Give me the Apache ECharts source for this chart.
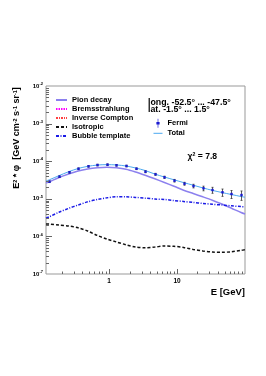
<!DOCTYPE html>
<html><head><meta charset="utf-8">
<script src="https://cdn.jsdelivr.net/npm/echarts@6/dist/echarts.min.js"></script>
<style>html,body{margin:0;padding:0;background:#fff}#c{width:266px;height:376px}</style>
</head><body><div id="c"></div>
<script>
const fermiE = [0.132, 0.183, 0.254, 0.351, 0.485, 0.671, 0.929, 1.285, 1.778, 2.46, 3.40, 4.71, 6.52, 9.02, 12.5, 17.3, 23.9, 33.0, 45.7, 63.2, 87.5];
const fermiFlux = [2.85e-5, 3.87e-5, 5.07e-5, 6.3e-5, 7.3e-5, 7.9e-5, 8.07e-5, 7.78e-5, 7.45e-5, 6.3e-5, 5.25e-5, 4.48e-5, 3.73e-5, 3.03e-5, 2.52e-5, 2.19e-5, 1.90e-5, 1.71e-5, 1.49e-5, 1.34e-5, 1.26e-5];
const fermiErr = [0.05, 0.05, 0.05, 0.05, 0.05, 0.05, 0.05, 0.05, 0.05, 0.05, 0.06, 0.06, 0.07, 0.08, 0.09, 0.11, 0.14, 0.18, 0.22, 0.24, 0.28];

const modelE = [0.118, 0.132, 0.183, 0.254, 0.351, 0.485, 0.671, 0.929, 1.285, 1.778, 2.46, 3.40, 4.71, 6.52, 9.02, 12.5, 17.3, 23.9, 33.0, 45.7, 63.2, 87.5, 100];
const totalFlux = [3.0e-5, 3.2e-5, 4.12e-5, 5.25e-5, 6.4e-5, 7.3e-5, 7.9e-5, 8.1e-5, 7.95e-5, 7.45e-5, 6.6e-5, 5.65e-5, 4.55e-5, 3.8e-5, 3.2e-5, 2.7e-5, 2.3e-5, 1.95e-5, 1.68e-5, 1.47e-5, 1.3e-5, 1.15e-5, 1.1e-5];
const pionFlux = [2.63e-5, 2.83e-5, 3.68e-5, 4.57e-5, 5.49e-5, 6.2e-5, 6.67e-5, 6.88e-5, 6.67e-5, 6.12e-5, 5.16e-5, 4.22e-5, 3.40e-5, 2.71e-5, 2.15e-5, 1.69e-5, 1.38e-5, 1.13e-5, 9.18e-6, 7.27e-6, 5.62e-6, 4.32e-6, 3.94e-6];
const bubbleFlux = [3.03e-6, 3.32e-6, 4.4e-6, 5.56e-6, 6.84e-6, 8.32e-6, 9.58e-6, 1.06e-5, 1.14e-5, 1.13e-5, 1.09e-5, 1.04e-5, 9.88e-6, 9.58e-6, 9.0e-6, 8.48e-6, 8.0e-6, 7.55e-6, 7.14e-6, 6.84e-6, 6.52e-6, 6.2e-6, 6.15e-6];
const isoFlux = [2.14e-6, 2.13e-6, 2.01e-6, 1.89e-6, 1.69e-6, 1.39e-6, 1.06e-6, 8.5e-7, 7.1e-7, 6.0e-7, 5.2e-7, 5.0e-7, 5.2e-7, 5.55e-7, 5.45e-7, 5.1e-7, 4.5e-7, 4.1e-7, 3.85e-7, 3.78e-7, 3.9e-7, 4.25e-7, 4.4e-7];
const bremsFlux = [];
const icFlux = [];

const xMajorTicks = [1, 10];
const xMinorTicks = [0.2, 0.3, 0.4, 0.5, 0.6, 0.7, 0.8, 0.9, 2, 3, 4, 5, 6, 7, 8, 9, 20, 30, 40, 50, 60, 70, 80, 90];
const yMajorTicks = [1e-6, 1e-5, 1e-4, 1e-3];
const yMinorMult = [2, 3, 4, 5, 6, 7, 8, 9];
const yDecades = [1e-7, 1e-6, 1e-5, 1e-4, 1e-3];
const yMinorTicks = [];
yDecades.forEach(d => yMinorMult.forEach(m => yMinorTicks.push(m * d)));

const FONT = 'Liberation Sans';
const chart = echarts.init(document.getElementById('c'), null, {renderer: 'canvas'});

function tickSeries(vals, dir, len) {
  return {
    type: 'custom', silent: true, z: 5, clip: false,
    data: vals.map(v => dir === 'x' ? [v, 1e-4] : [1, v]),
    renderItem: (params, api) => {
      const cs = params.coordSys;
      if (dir === 'x') {
        const px = Math.round(api.coord([api.value(0), 1e-4])[0]) + 0.5;
        const yb = cs.y + cs.height;
        return {type: 'line', shape: {x1: px, y1: yb, x2: px, y2: yb - len}, style: {stroke: '#666', lineWidth: 1}};
      } else {
        const py = Math.round(api.coord([1, api.value(1)])[1]) + 0.5;
        return {type: 'line', shape: {x1: cs.x, y1: py, x2: cs.x + len, y2: py}, style: {stroke: '#666', lineWidth: 1}};
      }
    }
  };
}

function lineSeries(name, ys, color, width, type) {
  return {
    name, type: 'line', symbol: 'none', smooth: 0.3, z: 3,
    data: ys.map((v, i) => [modelE[i], v]),
    lineStyle: {color, width, type},
    itemStyle: {color}
  };
}

const legendText = {fontSize: 7.5, fontWeight: 'bold', fontFamily: FONT, color: '#000', lineHeight: 9};
const hidden = {opacity: 0};

const option = {
  animation: false,
  backgroundColor: '#fff',
  grid: {left: 46, right: 21, top: 86, bottom: 102, show: true, borderColor: '#999', borderWidth: 1, backgroundColor: 'transparent'},
  xAxis: {
    type: 'log', logBase: 10, min: 0.118, max: 100,
    axisLine: {show: false}, axisTick: {show: false}, splitLine: {show: false},
    axisLabel: {
      margin: 4, fontSize: 6.5, fontWeight: 'bold', fontFamily: FONT, color: '#000',
      formatter: v => {
        const l = Math.log10(v);
        return (Math.abs(l - Math.round(l)) < 1e-6 && v > 0.5 && v < 50) ? String(Math.round(v)) : '';
      }
    }
  },
  yAxis: {
    type: 'log', logBase: 10, min: 1e-7, max: 1e-2,
    axisLine: {show: false}, axisTick: {show: false}, splitLine: {show: false},
    axisLabel: {
      margin: 3, fontFamily: FONT, color: '#000',
      formatter: v => '{a|10}{b|' + Math.round(Math.log10(v)) + '}',
      rich: {
        a: {fontSize: 6, fontWeight: 'bold', fontFamily: FONT, color: '#000'},
        b: {fontSize: 4, fontWeight: 'bold', fontFamily: FONT, color: '#000', padding: [0, 0, 4, 0]}
      }
    }
  },
  legend: [
    {
      orient: 'vertical', left: 55, top: 95.5, itemWidth: 11, itemHeight: 9, itemGap: 0, padding: 0,
      selectedMode: false, textStyle: legendText, itemStyle: hidden,
      data: ['Pion decay', 'Bremsstrahlung', 'Inverse Compton', 'Isotropic', 'Bubble template']
    },
    {
      orient: 'vertical', left: 153, top: 118.8, itemWidth: 9, itemHeight: 9, itemGap: 1, padding: 0,
      selectedMode: false, textStyle: legendText,
      data: [
        {name: 'Fermi', icon: 'path://M4.8,2L5.2,2L5.2,4L6,4L6,5.6L5.2,5.6L5.2,7.6L4.8,7.6L4.8,5.6L4,5.6L4,4L4.8,4Z'},
        {name: 'Total', itemStyle: hidden, lineStyle: {width: 1}}
      ]
    }
  ],
  graphic: [
    {type: 'text', x: 148, y: 102.3, style: {text: 'long. -52.5° ... -47.5°', font: 'bold 8.8px ' + FONT, fill: '#000', verticalAlign: 'middle'}},
    {type: 'text', x: 148, y: 109.8, style: {text: 'lat. -1.5° ... 1.5°', font: 'bold 8.8px ' + FONT, fill: '#000', verticalAlign: 'middle'}},
    {type: 'text', x: 187.5, y: 156.5, style: {text: '{a|χ}{b|2}{a| = 7.8}', verticalAlign: 'middle',
      rich: {a: {fontSize: 8.6, fontWeight: 'bold', fontFamily: FONT, fill: '#000'}, b: {fontSize: 5.2, fontWeight: 'bold', fontFamily: FONT, fill: '#000', padding: [0, 0, 4, 0]}}}},
    {type: 'text', x: 245, y: 292, style: {text: 'E [GeV]', font: 'bold 9.5px ' + FONT, fill: '#000', align: 'right', verticalAlign: 'middle'}},
    {type: 'text', x: 17, y: 138, rotation: Math.PI / 2,
      style: {text: '{a|E}{b|2}{a| * φ  [GeV cm}{b|-2}{a| s}{b|-1}{a| sr}{b|-1}{a|]}', align: 'center', verticalAlign: 'middle',
        rich: {a: {fontSize: 9, fontWeight: 'bold', fontFamily: FONT, fill: '#000'}, b: {fontSize: 5.5, fontWeight: 'bold', fontFamily: FONT, fill: '#000', padding: [0, 0, 4, 0]}}}}
  ],
  series: [
    lineSeries('Pion decay', pionFlux, '#8c80ee', 1.5, 'solid'),
    {name: 'Bremsstrahlung', type: 'line', symbol: 'none', data: bremsFlux, lineStyle: {color: '#ff00ff', width: 1.5, type: [1.5, 1]}, itemStyle: {color: '#ff00ff'}},
    {name: 'Inverse Compton', type: 'line', symbol: 'none', data: icFlux, lineStyle: {color: '#ff4040', width: 1.5, type: [2, 1, 1, 1]}, itemStyle: {color: '#ff4040'}},
    lineSeries('Isotropic', isoFlux, '#111111', 1.5, [3, 2]),
    lineSeries('Bubble template', bubbleFlux, '#1a1ae6', 1.5, [3, 1.5, 1, 1.5]),
    lineSeries('Total', totalFlux, '#4aa8f0', 1, 'solid'),
    {
      name: 'Fermi', type: 'custom', z: 4, itemStyle: {color: '#1a1ad0'},
      data: fermiE.map((e, i) => [e, fermiFlux[i], fermiFlux[i] * (1 - fermiErr[i]), fermiFlux[i] * (1 + fermiErr[i])]),
      renderItem: (params, api) => {
        const p = api.coord([api.value(0), api.value(1)]);
        const lo = api.coord([api.value(0), api.value(2)]);
        const hi = api.coord([api.value(0), api.value(3)]);
        const x = Math.round(p[0]) + 0.5;
        return {
          type: 'group', children: [
            {type: 'line', shape: {x1: x, y1: lo[1], x2: x, y2: hi[1]}, style: {stroke: '#333', lineWidth: 0.8}},
            {type: 'line', shape: {x1: x - 1, y1: lo[1], x2: x + 1, y2: lo[1]}, style: {stroke: '#333', lineWidth: 0.8}},
            {type: 'line', shape: {x1: x - 1, y1: hi[1], x2: x + 1, y2: hi[1]}, style: {stroke: '#333', lineWidth: 0.8}},
            {type: 'rect', shape: {x: x - 1.2, y: p[1] - 1.2, width: 2.4, height: 2.4}, style: {fill: '#1a1ad0'}}
          ]
        };
      }
    },
    tickSeries(xMajorTicks, 'x', 5),
    tickSeries(xMinorTicks, 'x', 2.5),
    tickSeries(yMajorTicks, 'y', 6),
    tickSeries(yMinorTicks, 'y', 3)
  ]
};
chart.setOption(option);
</script>
</body></html>
